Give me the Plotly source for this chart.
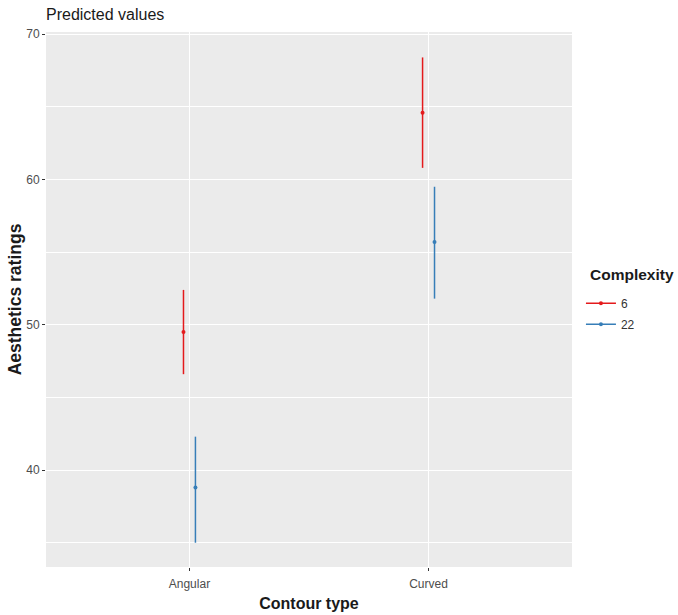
import plotly.graph_objects as go

# Predicted aesthetics ratings by contour type and complexity level
contour_types = ["Angular", "Curved"]
complexity_levels = ["6", "22"]
predicted = {
    "6": [49.5, 64.6],
    "22": [38.8, 55.7],
}
lower_ci = {
    "6": [46.6, 60.8],
    "22": [35.0, 51.8],
}
upper_ci = {
    "6": [52.4, 68.4],
    "22": [42.3, 59.5],
}
colors = {"6": "#E41A1C", "22": "#377EB8"}
dodge = {"6": -0.025, "22": 0.025}

FONT = "Liberation Sans, Arial, sans-serif"

fig = go.Figure()
for lvl in complexity_levels:
    xs = [i + 1 + dodge[lvl] for i in range(len(contour_types))]
    ys = predicted[lvl]
    fig.add_trace(go.Scatter(
        x=xs, y=ys, mode="markers",
        marker=dict(color=colors[lvl], size=4),
        error_y=dict(
            type="data", symmetric=False,
            array=[u - y for u, y in zip(upper_ci[lvl], ys)],
            arrayminus=[y - l for l, y in zip(lower_ci[lvl], ys)],
            color=colors[lvl], thickness=1.5, width=0,
        ),
        showlegend=False, hoverinfo="x+y",
    ))
    # legend key: line with a dot, as in ggplot pointrange keys
    fig.add_trace(go.Scatter(
        x=[None], y=[None], mode="lines+markers", name=lvl,
        legendgroup=lvl,
        line=dict(color=colors[lvl], width=1.5),
        marker=dict(color=colors[lvl], size=4),
    ))

fig.update_layout(
    width=678, height=615,
    margin=dict(l=46, r=106, t=32, b=48),
    paper_bgcolor="white", plot_bgcolor="#EBEBEB",
    font=dict(family=FONT, color="#4D4D4D"),
    title=dict(text="Predicted values", x=46 / 678, xanchor="left",
               y=1 - 14 / 615, yanchor="middle",
               font=dict(size=16, color="#1A1A1A", family=FONT)),
    legend=dict(
        font=dict(size=12, color="#333333"),
        x=1.017, xanchor="left", y=0.52, yanchor="top",
        bgcolor="rgba(0,0,0,0)", tracegroupgap=2, itemwidth=30,
    ),
    annotations=[dict(
        text="<b>Complexity</b>", xref="paper", yref="paper",
        x=1.03, y=0.546, xanchor="left", yanchor="middle",
        showarrow=False, font=dict(size=15.5, color="#1A1A1A"),
    )],
)
fig.update_xaxes(
    range=[0.4, 2.6], tickvals=[1, 2], ticktext=contour_types,
    showgrid=True, gridcolor="white", gridwidth=1.2, zeroline=False,
    ticks="outside", ticklen=3, tickcolor="#333333", tickwidth=1,
    ticklabelstandoff=3, automargin=False,
    tickfont=dict(size=12, color="#4D4D4D"),
    title=dict(text="<b>Contour type</b>", standoff=7,
               font=dict(size=16, color="#1A1A1A")),
)
fig.update_yaxes(
    range=[33.33, 70.15], tick0=0, dtick=10,
    showgrid=True, gridcolor="white", gridwidth=1.2, zeroline=False,
    minor=dict(dtick=5, tick0=0, showgrid=True, gridcolor="white", gridwidth=0.6),
    ticks="outside", ticklen=3, tickcolor="#333333", tickwidth=1,
    automargin=False,
    tickfont=dict(size=12, color="#4D4D4D"),
    title=dict(text="<b>Aesthetics ratings</b>", standoff=0,
               font=dict(size=17.5, color="#1A1A1A")),
)

fig.write_html("out.html")
